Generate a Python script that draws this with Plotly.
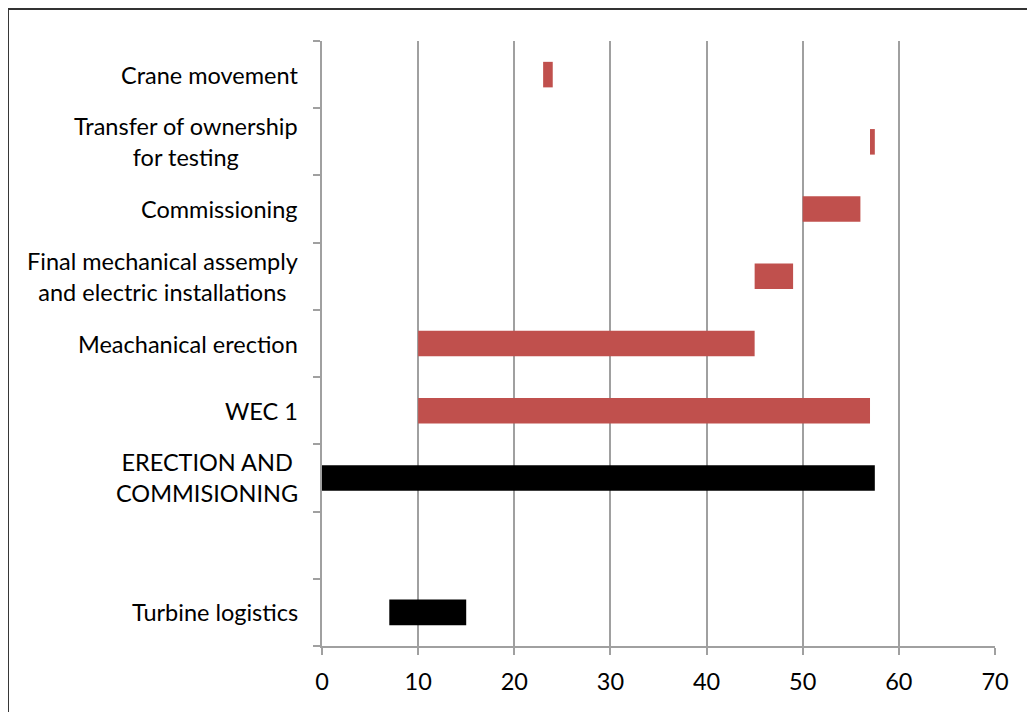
import plotly.graph_objects as go

# rows from bottom to top, "" is the empty spacer row
tasks = ["Turbine logistics", "", "ERECTION AND<br>COMMISIONING", "WEC 1",
         "Meachanical erection", "Final mechanical assemply<br>and electric installations",
         "Commissioning", "Transfer of ownership<br>for testing", "Crane movement"]
start = [7, None, 0, 10, 10, 45, 50, 57, 23]
duration = [8, None, 57.5, 47, 35, 4, 6, 0.5, 1]
colors = ["#000000", "#000000", "#000000", "#C0504D", "#C0504D",
          "#C0504D", "#C0504D", "#C0504D", "#C0504D"]
xticks = [0, 10, 20, 30, 40, 50, 60, 70]

rows = list(range(len(tasks)))
font = dict(family="Lato", size=23.5, color="#000000")

fig = go.Figure()
fig.add_trace(go.Bar(y=rows, x=duration, base=start, orientation="h",
                     marker=dict(color=colors, line=dict(width=0)), width=0.38))

for r, t in zip(rows, tasks):
    if t:
        fig.add_annotation(x=0, xref="paper", y=r, yref="y", text=t, showarrow=False,
                           xanchor="right", xshift=-22, align="center", font=font)

# frame around the picture
fig.add_shape(type="rect", xref="paper", yref="paper",
              x0=-0.4666, x1=1.07, y0=-0.13, y1=1.0529,
              line=dict(color="#333333", width=2))

fig.update_xaxes(range=[0, 70], tickvals=xticks, showgrid=True, gridcolor="#A0A0A0",
                 gridwidth=1.5, zeroline=False, showline=True, linecolor="#A0A0A0",
                 linewidth=1.5, ticks="outside", ticklen=7, tickcolor="#A0A0A0",
                 tickwidth=1.5, tickfont=font, ticklabelstandoff=7)
fig.update_yaxes(range=[-0.5, 8.5], tickvals=[i - 0.5 for i in range(10)],
                 showticklabels=False, showgrid=False, zeroline=False, showline=True,
                 linecolor="#A0A0A0", linewidth=1.5, ticks="outside", ticklen=7,
                 tickcolor="#A0A0A0", tickwidth=1.5)
fig.update_layout(width=1035, height=712, plot_bgcolor="white", paper_bgcolor="white",
                  margin=dict(l=314, r=48, t=33, b=74), showlegend=False, font=font)

fig.write_html("out.html")
